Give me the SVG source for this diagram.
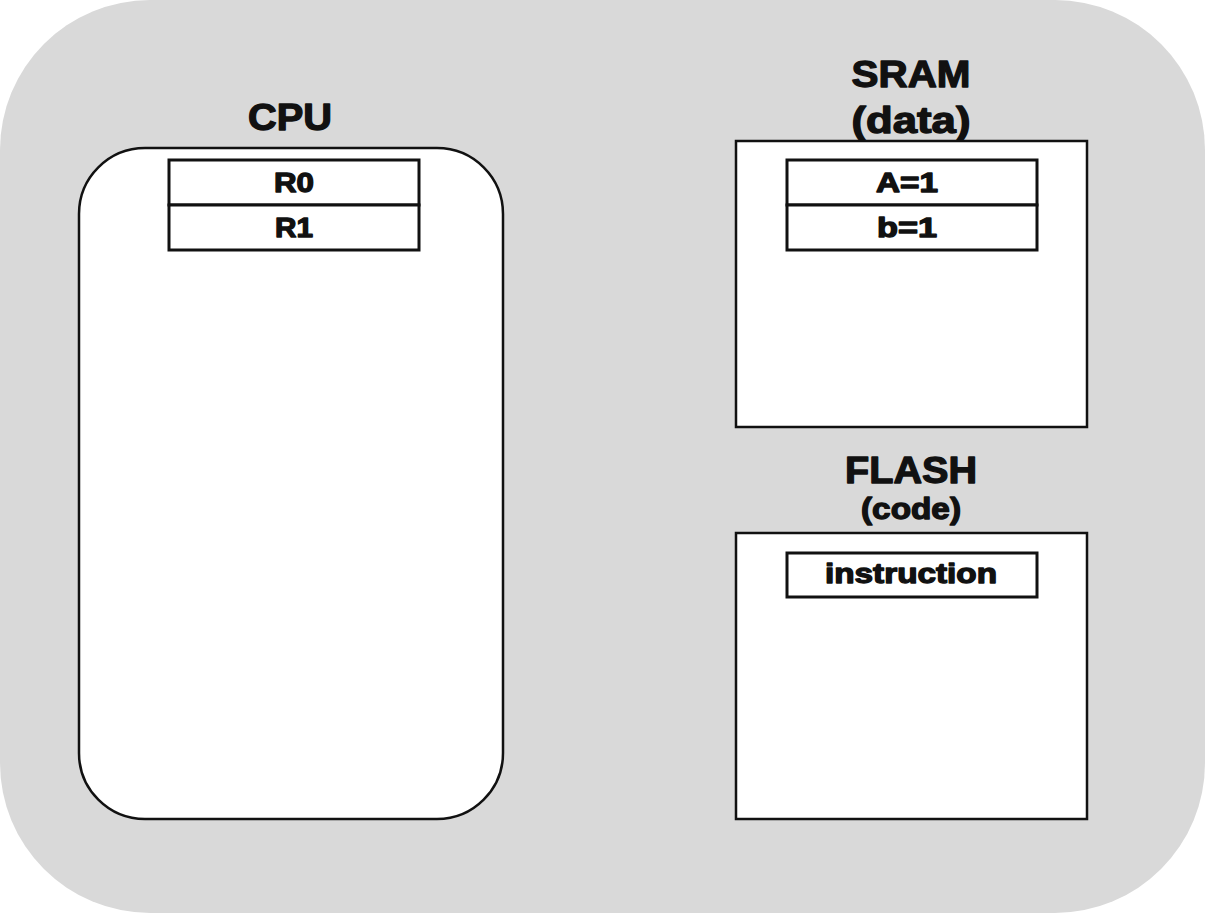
<svg xmlns="http://www.w3.org/2000/svg" width="1205" height="913" viewBox="0 0 1205 913">
  <style>
    .box { fill: #ffffff; stroke: #111111; stroke-width: 2.5; }
    .cell { fill: #ffffff; stroke: #111111; stroke-width: 3; }
    .t { font-family: "Liberation Sans", Arial, sans-serif; font-weight: bold; fill: #111111; stroke: #111111; stroke-width: 1.3; stroke-linejoin: round; text-anchor: middle; }
    .title { font-size: 37px; }
    .sub { font-size: 29px; }
    .lbl { font-size: 27px; }
  </style>
  <rect id="background" x="0" y="0" width="1205" height="913" rx="150" ry="150" fill="#d9d9d9"/>

  <g id="cpu">
    <text class="t title" x="290" y="130" textLength="84" lengthAdjust="spacingAndGlyphs">CPU</text>
    <rect class="box" x="79" y="148" width="424" height="671" rx="66" ry="66"/>
  </g>
  <g id="r0">
    <rect class="cell" x="169" y="160" width="250" height="45"/>
    <text class="t lbl" x="294" y="192" textLength="40" lengthAdjust="spacingAndGlyphs">R0</text>
  </g>
  <g id="r1">
    <rect class="cell" x="169" y="205" width="250" height="45"/>
    <text class="t lbl" x="294" y="237" textLength="38" lengthAdjust="spacingAndGlyphs">R1</text>
  </g>

  <g id="sram">
    <text class="t title" x="911" y="87" textLength="119" lengthAdjust="spacingAndGlyphs">SRAM</text>
    <text class="t title" x="911" y="133" textLength="119" lengthAdjust="spacingAndGlyphs">(data)</text>
    <rect class="box" x="736" y="141" width="351" height="286"/>
  </g>
  <g id="a1">
    <rect class="cell" x="787" y="160" width="250" height="45"/>
    <text class="t lbl" x="907" y="192" textLength="62" lengthAdjust="spacingAndGlyphs">A=1</text>
  </g>
  <g id="b1">
    <rect class="cell" x="787" y="205" width="250" height="45"/>
    <text class="t lbl" x="907" y="237" textLength="60" lengthAdjust="spacingAndGlyphs">b=1</text>
  </g>

  <g id="flash">
    <text class="t title" x="911" y="483" textLength="132" lengthAdjust="spacingAndGlyphs">FLASH</text>
    <text class="t sub" x="911" y="519" textLength="100" lengthAdjust="spacingAndGlyphs">(code)</text>
    <rect class="box" x="736" y="533" width="351" height="286"/>
  </g>
  <g id="instruction">
    <rect class="cell" x="787" y="553" width="250" height="44"/>
    <text class="t lbl" x="911" y="583" textLength="172" lengthAdjust="spacingAndGlyphs">instruction</text>
  </g>

  <g id="connectors"/>
</svg>
